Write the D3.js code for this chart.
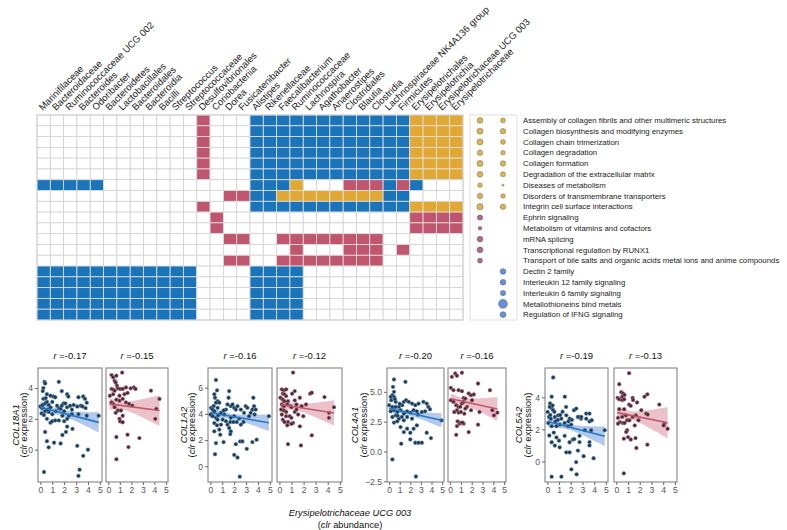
<!DOCTYPE html>
<html><head><meta charset="utf-8">
<script src="https://cdn.jsdelivr.net/npm/d3@7"></script>
<style>body{margin:0;background:#fff;} svg{display:block;font-family:"Liberation Sans",Arial,Helvetica,sans-serif;}</style>
</head><body><svg id="c" width="787" height="530"></svg>
<script>
// ---------------- DATA ----------------
const taxa = ["Marinifilaceae","Bacteroidaceae","Ruminococcaceae UCG 002","Bacteroides","Odoribacter","Bacteroidetes","Lactobacillales","Bacteroidales","Bacteroidia","Bacilli","Streptococcus","Streptococcaceae","Desulfovibrionales","Coriobacteriia","Dorea","Fusicatenibacter","Alistipes","Rikenellaceae","Faecalibacterium","Ruminococcaceae","Lachnospira","Agathobacter","Anaerostipes","Clostridiales","Blautia","Clostridia","Lachnospiraceae NK4A136 group","Firmicutes","Erysipelotrichales","Erysipelotrichia","Erysipelotrichaceae UCG 003","Erysipelotrichaceae"];
const pathways = ["Assembly of collagen fibrils and other multimeric structures","Collagen biosynthesis and modifying enzymes","Collagen chain trimerization","Collagen degradation","Collagen formation","Degradation of the extracellular matrix","Diseases of metabolism","Disorders of transmembrane transporters","Integrin cell surface interactions","Ephrin signaling","Metabolism of vitamins and cofactors","mRNA splicing","Transcriptional regulation by RUNX1","Transport of bile salts and organic acids metal ions and anime compounds","Dectin 2 family","Interleukin 12 family signaling","Interleukin 6 family signaling","Metallothioneins bind metals","Regulation of IFNG signaling"];
// B = blue, P = pink, G = gold, . = none  (one char per taxon)
const heatRows = [
"............P...BBBBBBBBBBBBGGGG",
"............P...BBBBBBBBBBBBGGGG",
"............P...BBBBBBBBBBBBGGGG",
"............P...BBBBBBBBBBBBGGGG",
"............P...BBBBBBBBBBBBGGGG",
"............P...BBBBBBBBBBBBGGGG",
"BBBBB...........BBBG...PPPBPB...",
"..............PPBBGGGGGGGGBB....",
"............P...BBBBBBBBBBBBGGGG",
".............P..............PPPP",
".............P..............PPPP",
"..............PP..PPPPPPPP......",
"...................P...PPP.P....",
"..............PP..PPPPPPPP......",
"BBBBBBBBBBBB....BBBB............",
"BBBBBBBBBBBB....BBBB............",
"BBBBBBBBBBBB....BBBB............",
"BBBBBBBBBBBB....BBBB............",
"BBBBBBBBBBBB....BBBB............"];
const dotGroupA = "GGGGGGGGGPPPPP.....";
const dotSizeA  = [7.8,9,9,7.3,9,7.8,4.8,7.3,9.6,6.8,2.9,7.8,8.4,5.8,null,null,null,null,null];
const dotGroupB = "GGGGGGGGG.....BBBBB";
const dotSizeB  = [5.8,7.3,5.8,4.8,7.3,6.3,1.0,4.8,7.3,null,null,null,null,null,7.8,7.8,6.8,19.4,8.4];

const genes = ["COL18A1","COL1A2","COL4A1","COL5A2"];
const rBlue = [-0.17,-0.16,-0.20,-0.19];
const rPink = [-0.15,-0.12,-0.16,-0.13];
const yTicks = [[0,2,4],[0,2,4,6],[-2.5,0,2.5,5],[0,2,4]];
const yDomains = [[-2.1,5.3],[-1.2,7.5],[-2.56,7.0],[-1.28,5.83]];
const xTicks = [0,1,2,3,4,5];
const xTitle = "Erysipelotrichaceae UCG 003";

const ptsBlueCOL18A1 = [[0.35,4.4],[0.4,4.3],[0.25,4.0],[0.2,3.8],[1.55,4.4],[0.55,3.6],[0.85,3.5],[1.1,3.45],[1.25,3.4],[1.8,3.8],[2.25,3.6],[2.35,3.45],[3.2,3.4],[3.6,3.45],[3.75,3.3],[3.9,3.05],[0.0,2.8],[0.15,2.7],[0.2,2.9],[0.4,3.0],[0.55,3.1],[0.7,2.9],[0.85,2.75],[0.4,2.5],[0.7,2.45],[1.4,2.85],[1.55,2.7],[1.7,2.65],[1.8,2.85],[1.95,3.0],[2.1,3.0],[2.25,2.75],[2.5,2.85],[2.65,2.6],[2.8,2.9],[3.1,2.8],[3.4,2.85],[3.55,2.8],[3.8,2.7],[0.1,2.35],[0.3,2.25],[0.55,2.0],[0.85,1.75],[1.0,1.85],[1.25,1.9],[1.55,1.9],[1.85,2.2],[2.0,1.85],[2.25,2.0],[2.65,2.3],[3.2,2.3],[3.9,2.2],[4.9,2.2],[0.4,1.15],[1.85,0.95],[2.15,1.15],[2.7,1.35],[2.25,1.5],[0.55,0.55],[0.7,0.15],[1.15,0.45],[1.7,0.4],[3.1,0.25],[4.0,0.0],[3.6,-0.4],[0.3,-1.45],[3.3,-1.3],[3.2,-1.7],[0.6,2.6],[1.0,2.3],[1.3,2.5],[0.25,3.3],[0.45,3.35],[1.0,3.1],[2.0,2.5],[2.4,2.2]];
const ptsPinkCOL18A1 = [[0.28,4.84],[0.42,4.7],[0.7,4.8],[1.2,5.0],[0.55,4.47],[0.64,4.36],[0.75,4.15],[0.28,3.94],[0.42,3.9],[0.55,3.83],[0.83,3.98],[1.03,3.94],[1.25,3.94],[1.53,4.04],[1.94,3.98],[2.22,4.04],[2.36,3.94],[3.7,3.83],[0.14,3.5],[0.42,3.6],[0.97,3.5],[1.4,3.6],[1.67,3.68],[0.28,3.07],[0.42,2.97],[0.7,3.25],[0.97,3.18],[1.25,3.29],[1.53,3.07],[1.8,2.97],[2.08,2.86],[4.44,3.29],[0.55,2.75],[0.83,2.54],[1.1,2.54],[0.64,2.39],[1.25,2.2],[0.97,2.0],[1.03,1.83],[1.25,1.78],[4.08,2.0],[4.17,2.65],[0.7,0.82],[1.67,0.97],[1.75,0.17],[2.7,0.75],[0.7,-0.62]];
const ptsBlueCOL1A2 = [[0.47,6.59],[0.56,5.8],[0.33,5.5],[0.39,5.23],[0.61,4.97],[0.47,4.85],[0.28,4.6],[0.06,4.46],[0.19,4.33],[0.33,4.2],[0.61,4.46],[0.75,4.85],[0,3.95],[0.19,3.82],[0.47,3.7],[0.61,3.56],[0.33,3.3],[0.56,3.13],[0.33,2.67],[0.75,2.8],[0.89,3.18],[1.03,3.56],[1.17,3.95],[1.31,4.33],[1.44,4.72],[1.53,5.23],[1.58,5.74],[1.72,4.59],[1.86,4.72],[2.0,4.46],[2.14,4.33],[2.28,4.59],[2.0,3.82],[1.72,3.7],[1.31,3.44],[1.44,3.18],[1.58,2.92],[1.67,2.46],[1.11,1.85],[0.47,1.77],[0.39,0.92],[2.14,1.69],[2.5,1.9],[2.56,4.33],[2.83,4.08],[2.97,4.59],[3.11,4.46],[3.25,3.82],[3.39,4.08],[3.53,4.33],[3.61,5.23],[3.67,4.59],[3.81,4.33],[3.72,3.95],[2.78,3.38],[2.69,1.9],[3.06,1.33],[3.53,1.85],[3.89,2.03],[4.92,3.82],[2.0,0.87],[2.28,0.67],[2.47,-0.79],[1.67,3.38],[1.94,3.38],[1.11,4.26],[0.89,4.08],[0.67,3.9],[2.22,3.38],[2.42,3.64],[2.56,3.18],[1.72,2.67],[0.83,2.41]];
const ptsPinkCOL1A2 = [[1.13,7.15],[0.2,5.87],[0.37,5.8],[0.56,5.87],[0.28,5.54],[0.42,5.49],[0.08,5.23],[0.28,5.1],[0.42,4.97],[0.56,5.36],[0.71,4.97],[1.27,5.74],[1.05,5.54],[1.27,5.03],[1.41,4.72],[1.69,5.23],[2.54,5.54],[2.68,5.61],[3.73,5.28],[0.2,4.72],[0.37,4.59],[0.65,4.72],[0.93,4.59],[0.14,4.33],[0.37,4.26],[0.56,4.15],[0.99,4.51],[1.27,4.15],[1.84,4.59],[2.2,4.72],[0.2,3.95],[0.56,3.82],[0.85,3.82],[0.99,3.7],[1.55,3.95],[1.98,3.82],[0.28,3.56],[0.71,3.38],[1.13,3.31],[0.42,3.38],[0.65,3.13],[0.99,3.23],[1.69,3.05],[2.68,2.36],[0.71,1.69],[1.78,1.59],[4.1,4.08],[4.1,3.7],[4.52,4.51],[1.41,4.33]];
const ptsBlueCOL4A1 = [[0.46,6.04],[0.37,5.42],[0.46,5.0],[0.31,4.72],[0.15,4.58],[0.46,4.58],[0.62,4.16],[0,3.88],[0.31,3.74],[0.62,3.74],[0.93,3.74],[1.23,3.88],[1.39,4.16],[1.6,4.3],[1.85,4.16],[2.16,4.02],[2.47,3.88],[2.78,4.02],[3.24,4.16],[3.55,4.02],[3.7,3.74],[1.54,5.84],[0.15,3.37],[0.46,3.46],[0.77,3.31],[1.08,3.46],[1.39,3.17],[1.7,3.37],[2.0,3.26],[2.31,3.46],[2.62,3.37],[3.09,3.31],[3.4,3.37],[0.31,2.89],[0.62,3.03],[0.93,2.75],[1.39,2.61],[1.7,2.89],[2.16,2.75],[2.72,3.09],[3.86,3.54],[4.94,2.61],[0.46,2.42],[0.77,2.53],[1.08,2.05],[1.39,1.63],[1.7,1.91],[2.0,1.57],[2.31,1.91],[2.62,2.19],[3.55,1.57],[3.95,1.12],[1.14,0.65],[2.0,1.01],[2.47,0.73],[2.78,0.73],[3.09,0.73],[0.31,-0.67],[2.53,-2.1],[0.2,4.3],[0.55,4.4],[1.0,4.0],[0.8,3.0],[1.2,2.9]];
const ptsPinkCOL4A1 = [[0.16,6.26],[0.47,6.54],[0.63,6.35],[1.09,6.6],[0.06,5.34],[0.31,5.14],[0.78,5.14],[1.09,5.06],[1.72,4.86],[1.94,4.72],[2.19,4.78],[2.59,5.7],[3.69,5.14],[1.25,4.49],[1.41,4.44],[2.03,4.3],[0.06,4.3],[0.31,4.16],[0.56,3.88],[0.78,3.74],[0.94,3.74],[1.09,4.02],[1.25,4.16],[1.56,3.74],[0.63,3.46],[0.38,3.31],[0.78,3.26],[1.41,3.6],[1.0,3.31],[1.31,3.17],[1.94,3.46],[2.72,3.31],[3.91,3.46],[4.06,3.03],[4.38,3.26],[0.69,2.53],[0.88,2.33],[1.0,2.42],[1.25,2.33],[0.63,2.13],[1.16,2.42],[0.56,1.4],[1.72,1.63],[2.59,2.25]];
const ptsBlueCOL5A2 = [[0.5,5.24],[0.37,4.04],[0.23,3.62],[0.4,3.3],[0.5,3.2],[0.6,3.1],[1.49,4.04],[0.03,3.09],[0.14,2.78],[0.3,2.67],[0.64,2.78],[0.92,2.88],[1.2,2.67],[1.62,2.88],[1.9,2.67],[2.27,3.2],[2.6,2.78],[2.88,2.67],[0.08,2.4],[0.37,2.2],[0.78,2.2],[1.06,2.3],[1.48,2.4],[1.76,2.2],[2.04,2.3],[0.17,1.62],[0.37,1.2],[0.64,0.99],[1.06,0.88],[0.78,1.5],[1.48,1.6],[1.9,1.2],[2.18,1.37],[1.62,0.57],[1.9,0.57],[2.46,-0.04],[2.05,-0.49],[2.5,-0.8],[0.37,-0.95],[1.2,-0.95],[2.47,3.3],[2.67,2.78],[2.9,2.78],[3.32,2.99],[3.6,2.99],[3.32,2.67],[3.6,2.5],[3.79,2.57],[3.74,1.95],[3.6,1.21],[3.6,1.0],[2.75,1.21],[2.61,0.68],[3.1,0.33],[3.95,0.2],[4.9,1.95],[3.2,1.95],[2.75,1.6],[0.2,3.4],[0.45,3.5],[0.7,2.5],[0.9,2.6],[1.1,2.9],[1.3,3.1],[1.6,3.4],[1.8,2.5],[2.1,2.6],[0.25,2.9],[0.55,1.8],[1.0,1.3],[2.3,1.4]];
const ptsPinkCOL5A2 = [[1.09,5.51],[0.25,4.82],[0.42,4.32],[0.56,4.25],[0.5,4.04],[0.7,4.15],[0.11,3.97],[0.25,3.88],[0.5,3.83],[0.67,3.88],[1.39,3.97],[1.43,3.83],[1.77,3.68],[2.4,4.04],[2.65,4.19],[1.09,3.55],[1.23,3.47],[3.67,3.55],[0.25,3.26],[0.67,3.26],[2.13,3.2],[2.54,2.99],[2.68,2.93],[0.14,2.72],[0.5,2.78],[0.81,2.88],[1.39,2.78],[1.67,2.88],[0.31,2.46],[0.14,2.36],[0.56,2.4],[0.7,2.4],[0.92,2.57],[1.12,2.57],[1.89,2.57],[4.09,2.36],[4.04,2.25],[4.38,2.04],[1.57,2.25],[0.92,1.95],[0.84,1.84],[0.64,1.42],[1.0,1.52],[1.23,1.37],[1.64,1.46],[1.71,0.84],[2.65,1.05],[0.64,-0.74]];
const ptsBlue = [ptsBlueCOL18A1, ptsBlueCOL1A2, ptsBlueCOL4A1, ptsBlueCOL5A2];
const ptsPink = [ptsPinkCOL18A1, ptsPinkCOL1A2, ptsPinkCOL4A1, ptsPinkCOL5A2];
// fit: [intercept, slope, xmin, xmax, xmean, CI half-width at mean, CI half-width at xmax]
const fitBlue = [[2.75,-0.20,0,4.9,1.7,0.2,0.65],[4.08,-0.154,0,4.92,1.8,0.2,0.64],[3.6,-0.2,0,4.94,1.6,0.18,0.59],[2.5,-0.19,0.03,4.9,1.7,0.17,0.61]];
const fitPink = [[2.98,-0.10,0.1,4.44,1.1,0.25,1.0],[4.73,-0.146,0.08,4.52,1.2,0.25,0.96],[4.44,-0.2,0.06,4.38,1.1,0.3,1.0],[3.06,-0.147,0.08,4.38,1.1,0.25,0.98]];

// ---------------- LAYOUT / STYLE ----------------
const svg = d3.select("#c");
const heatColor = {B:"#1a74ba", P:"#c0566d", G:"#e2a834"};
const dotFill = {G:"#dbb35a", P:"#b3698a", B:"#6b8fd0"};
const dotStroke = {G:"#7a6630", P:"#6a3a52", B:"#3a5a92"};

const xBand = d3.scaleBand().domain(taxa).range([37,463]);
const yBand = d3.scaleBand().domain(pathways).range([115,320]);

const cells = [];
heatRows.forEach((row,i)=>{ row.split("").forEach((c,j)=>cells.push({p:pathways[i], t:taxa[j], c})); });
svg.append("g").selectAll("rect").data(cells).join("rect")
  .attr("x",d=>xBand(d.t)).attr("y",d=>yBand(d.p))
  .attr("width",xBand.bandwidth()).attr("height",yBand.bandwidth())
  .attr("fill",d=>d.c==="."?"#fff":heatColor[d.c])
  .attr("stroke",d=>d.c==="."?"#d2d2d2":"#e2e2e2").attr("stroke-width",0.8);
svg.append("rect").attr("x",37).attr("y",115).attr("width",426).attr("height",205)
  .attr("fill","none").attr("stroke","#c8c8c8").attr("stroke-width",0.8);

// column labels
svg.append("g").selectAll("text").data(taxa).join("text")
  .attr("transform",d=>`translate(${xBand(d)+xBand.bandwidth()/2-1},111) rotate(-45)`)
  .attr("font-size","9.5px").attr("fill","#1a1a1a").text(d=>d);

// dot panel
const dotX = d3.scaleBand().domain(["A","B"]).range([468.5,514.5]);
const rScale = d3.scaleSqrt().domain([0,20]).range([0,4.5]);
svg.append("rect").attr("x",470).attr("y",115).attr("width",47).attr("height",205)
  .attr("fill","none").attr("stroke","#d6d6d6").attr("stroke-width",0.8);
const dots = [];
pathways.forEach((p,i)=>{
  if(dotSizeA[i]!=null) dots.push({p, col:"A", g:dotGroupA[i], v:dotSizeA[i]});
  if(dotSizeB[i]!=null) dots.push({p, col:"B", g:dotGroupB[i], v:dotSizeB[i]});
});
svg.append("g").selectAll("circle").data(dots).join("circle")
  .attr("cx",d=>dotX(d.col)+dotX.bandwidth()/2).attr("cy",d=>yBand(d.p)+yBand.bandwidth()/2)
  .attr("r",d=>rScale(d.v)).attr("fill",d=>dotFill[d.g]).attr("stroke",d=>dotStroke[d.g]).attr("stroke-width",0.5);

svg.append("g").selectAll("text").data(pathways).join("text")
  .attr("x",523).attr("y",d=>yBand(d)+yBand.bandwidth()/2).attr("dy","0.35em")
  .attr("font-size","7.8px").attr("fill","#1a1a1a").text(d=>d);

// ---------------- SCATTER PANELS ----------------
const boxTop = 368, boxBot = 482;
const panelLayout = [
  {blue:[38,102], pink:[106,168], t1:-19, t2:-11},
  {blue:[208,272], pink:[277,342], t1:-21.3, t2:-12.8},
  {blue:[387,444], pink:[448,506], t1:-29.3, t2:-20.3},
  {blue:[545,608], pink:[614,677], t1:-22.6, t2:-13.6}];
const xDom = [-0.2,5.18];
const styles = {
  blue:{pt:"#1c3952", ptStroke:"#6f9cc4", line:"#1f78c1", band:"#7ea3e0"},
  pink:{pt:"#4a2733", ptStroke:"#c98696", line:"#c0566d", band:"#e09aa6"}};

function subPanel(box, yDom, pts, fit, r, st, showY, ticksY){
  const x = d3.scaleLinear().domain(xDom).range(box);
  const y = d3.scaleLinear().domain(yDom).range([boxBot, boxTop]);
  const g = svg.append("g");
  g.append("rect").attr("x",box[0]).attr("y",boxTop).attr("width",box[1]-box[0]).attr("height",boxBot-boxTop)
    .attr("fill","#fff");
  const [a,b,x0,x1,xm,hm,he] = fit;
  const k = Math.sqrt(Math.max(0, he*he - hm*hm))/Math.abs(x1-xm);
  const xs = d3.range(0,41).map(i=>x0+(x1-x0)*i/40);
  const hw = v=>Math.sqrt(hm*hm + k*k*(v-xm)*(v-xm));
  g.append("path").datum(xs)
    .attr("d", d3.area().x(v=>x(v)).y0(v=>y(a+b*v-hw(v))).y1(v=>y(a+b*v+hw(v))))
    .attr("fill",st.band).attr("opacity",0.6);
  g.selectAll("circle").data(pts).join("circle")
    .attr("cx",d=>x(d[0])).attr("cy",d=>y(d[1])).attr("r",1.9)
    .attr("fill",st.pt).attr("stroke",st.ptStroke).attr("stroke-width",0.5);
  g.append("line").attr("x1",x(x0)).attr("x2",x(x1)).attr("y1",y(a+b*x0)).attr("y2",y(a+b*x1))
    .attr("stroke",st.line).attr("stroke-width",1.6);
  g.append("rect").attr("x",box[0]).attr("y",boxTop).attr("width",box[1]-box[0]).attr("height",boxBot-boxTop)
    .attr("fill","none").attr("stroke","#7a7a7a").attr("stroke-width",1);
  const xa = g.append("g").attr("transform",`translate(0,${boxBot})`)
    .call(d3.axisBottom(x).tickValues(xTicks).tickSize(3).tickPadding(2).tickFormat(d3.format("d")));
  xa.select(".domain").remove();
  xa.selectAll("line").attr("stroke","#666");
  xa.selectAll("text").attr("fill","#555").attr("font-size","8.6px").attr("font-family",null);
  if(showY){
    const fmt = ticksY.some(t=>t%1!==0) ? d3.format(".1f") : d3.format("d");
    const ya = g.append("g").attr("transform",`translate(${box[0]},0)`)
      .call(d3.axisLeft(y).tickValues(ticksY).tickSize(3).tickPadding(2).tickFormat(fmt));
    ya.select(".domain").remove();
    ya.selectAll("line").attr("stroke","#666");
    ya.selectAll("text").attr("fill","#555").attr("font-size","8.6px").attr("font-family",null);
  }
  const t = g.append("text").attr("x",(box[0]+box[1])/2).attr("y",358.5).attr("text-anchor","middle")
    .attr("font-size","9.5px").attr("fill","#111");
  t.append("tspan").attr("font-style","italic").text("r");
  t.append("tspan").text(" =" + d3.format(".2f")(r).replace("−","-"));
}

genes.forEach((gname,i)=>{
  const L = panelLayout[i];
  subPanel(L.blue, yDomains[i], ptsBlue[i], fitBlue[i], rBlue[i], styles.blue, true, yTicks[i]);
  subPanel(L.pink, yDomains[i], ptsPink[i], fitPink[i], rPink[i], styles.pink, false, yTicks[i]);
  const cy = (boxTop+boxBot)/2;
  svg.append("text").attr("transform",`translate(${L.blue[0]+L.t1},${cy}) rotate(-90)`)
    .attr("text-anchor","middle").attr("font-size","9.5px").attr("fill","#111").attr("font-style","italic").text(gname);
  const t2 = svg.append("text").attr("transform",`translate(${L.blue[0]+L.t2},${cy}) rotate(-90)`)
    .attr("text-anchor","middle").attr("font-size","9.5px").attr("fill","#111");
  t2.append("tspan").text("(");
  t2.append("tspan").attr("font-style","italic").text("clr");
  t2.append("tspan").text(" expression)");
});

svg.append("text").attr("x",350).attr("y",516).attr("text-anchor","middle")
  .attr("font-size","9.3px").attr("font-style","italic").attr("fill","#111").text(xTitle);
const xt2 = svg.append("text").attr("x",350).attr("y",528).attr("text-anchor","middle")
  .attr("font-size","9.3px").attr("fill","#111");
xt2.append("tspan").text("(");
xt2.append("tspan").attr("font-style","italic").text("clr");
xt2.append("tspan").text(" abundance)");
</script></body></html>
